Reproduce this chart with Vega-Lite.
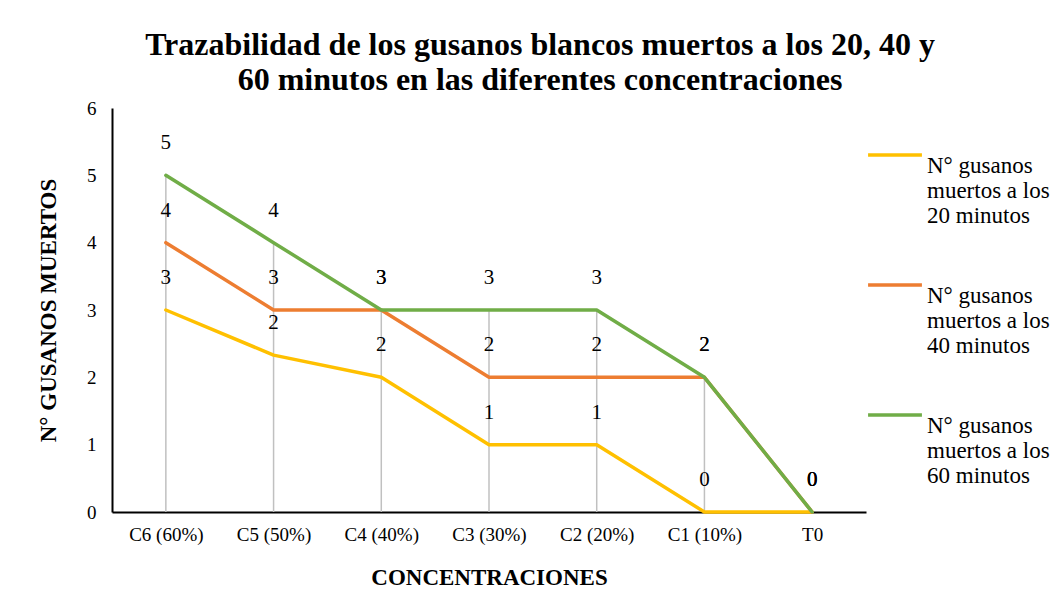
{
  "$schema": "https://vega.github.io/schema/vega-lite/v6.json",
  "width": 754,
  "height": 404,
  "autosize": "none",
  "padding": {"left": 112, "top": 108, "right": 196, "bottom": 104},
  "background": "white",
  "title": {
    "text": ["Trazabilidad de los gusanos blancos muertos a los 20, 40 y", "60 minutos en las diferentes concentraciones"],
    "font": "Liberation Serif",
    "fontSize": 32,
    "fontWeight": "bold",
    "lineHeight": 35,
    "color": "black",
    "anchor": "middle",
    "dx": 51,
    "offset": 2
  },
  "config": {
    "view": {"stroke": null},
    "font": "Liberation Serif",
    "axis": {
      "labelFont": "Liberation Serif",
      "titleFont": "Liberation Serif",
      "labelColor": "black",
      "titleColor": "black",
      "labelFontSize": 19,
      "titleFontSize": 23,
      "titleFontWeight": "bold",
      "ticks": false,
      "grid": false,
      "domainColor": "black",
      "domainWidth": 2
    },
    "legend": {"labelFont": "Liberation Serif"}
  },
  "data": {
    "values": [
      {"conc": "C6 (60%)", "serie": "20 minutos", "valor": 3},
      {"conc": "C5 (50%)", "serie": "20 minutos", "valor": 2.33},
      {"conc": "C4 (40%)", "serie": "20 minutos", "valor": 2},
      {"conc": "C3 (30%)", "serie": "20 minutos", "valor": 1},
      {"conc": "C2 (20%)", "serie": "20 minutos", "valor": 1},
      {"conc": "C1 (10%)", "serie": "20 minutos", "valor": 0},
      {"conc": "T0", "serie": "20 minutos", "valor": 0},
      {"conc": "C6 (60%)", "serie": "40 minutos", "valor": 4},
      {"conc": "C5 (50%)", "serie": "40 minutos", "valor": 3},
      {"conc": "C4 (40%)", "serie": "40 minutos", "valor": 3},
      {"conc": "C3 (30%)", "serie": "40 minutos", "valor": 2},
      {"conc": "C2 (20%)", "serie": "40 minutos", "valor": 2},
      {"conc": "C1 (10%)", "serie": "40 minutos", "valor": 2},
      {"conc": "T0", "serie": "40 minutos", "valor": 0},
      {"conc": "C6 (60%)", "serie": "60 minutos", "valor": 5},
      {"conc": "C5 (50%)", "serie": "60 minutos", "valor": 4},
      {"conc": "C4 (40%)", "serie": "60 minutos", "valor": 3},
      {"conc": "C3 (30%)", "serie": "60 minutos", "valor": 3},
      {"conc": "C2 (20%)", "serie": "60 minutos", "valor": 3},
      {"conc": "C1 (10%)", "serie": "60 minutos", "valor": 2},
      {"conc": "T0", "serie": "60 minutos", "valor": 0}
    ]
  },
  "encoding": {
    "x": {
      "field": "conc",
      "type": "nominal",
      "sort": null,
      "scale": {"type": "point", "padding": 0.5},
      "axis": {
        "title": "CONCENTRACIONES",
        "titlePadding": 22,
        "labelAngle": 0,
        "labelPadding": 13
      }
    }
  },
  "layer": [
    {
      "transform": [{"aggregate": [{"op": "max", "field": "valor", "as": "maximo"}], "groupby": ["conc"]}],
      "mark": {"type": "rule", "color": "#c0c0c0", "strokeWidth": 1.5},
      "encoding": {
        "y": {
          "field": "maximo",
          "type": "quantitative",
          "scale": {"domain": [0, 6]},
          "axis": {
            "title": "N° GUSANOS MUERTOS",
            "titlePadding": 26,
            "labelPadding": 16,
            "values": [0, 1, 2, 3, 4, 5, 6],
            "format": "d"
          }
        },
        "y2": {"datum": 0}
      }
    },
    {
      "mark": {"type": "line", "strokeWidth": 3.5, "strokeCap": "round", "strokeJoin": "round"},
      "encoding": {
        "y": {
          "field": "valor",
          "type": "quantitative",
          "scale": {"domain": [0, 6]},
          "axis": {
            "title": "N° GUSANOS MUERTOS",
            "titlePadding": 26,
            "labelPadding": 16,
            "values": [0, 1, 2, 3, 4, 5, 6],
            "format": "d"
          }
        },
        "color": {
          "field": "serie",
          "type": "nominal",
          "scale": {"domain": ["20 minutos", "40 minutos", "60 minutos"], "range": ["#FFC000", "#ED7D31", "#70AD47"]},
          "legend": {
            "title": null,
            "orient": "none",
            "legendX": 754,
            "legendY": 18,
            "padding": 0,
            "symbolType": "stroke",
            "symbolSize": 2900,
            "symbolStrokeWidth": 3.5,
            "labelFont": "Liberation Serif",
            "labelFontSize": 23,
            "labelColor": "black",
            "labelLineHeight": 28,
            "labelBaseline": "top",
            "labelOffset": 3,
            "labelLimit": 300,
            "rowPadding": 28,
            "labelExpr": "['N° gusanos', 'muertos a los', datum.label]"
          }
        }
      }
    },
    {
      "mark": {"type": "text", "fontSize": 21, "color": "black", "yOffset": -32, "baseline": "middle", "font": "Liberation Serif"},
      "encoding": {
        "y": {
          "field": "valor",
          "type": "quantitative",
          "scale": {"domain": [0, 6]},
          "axis": {
            "title": "N° GUSANOS MUERTOS",
            "titlePadding": 26,
            "labelPadding": 16,
            "values": [0, 1, 2, 3, 4, 5, 6],
            "format": "d"
          }
        },
        "text": {"field": "valor", "type": "quantitative", "format": ".0f"},
        "detail": {"field": "serie"}
      }
    }
  ]
}
